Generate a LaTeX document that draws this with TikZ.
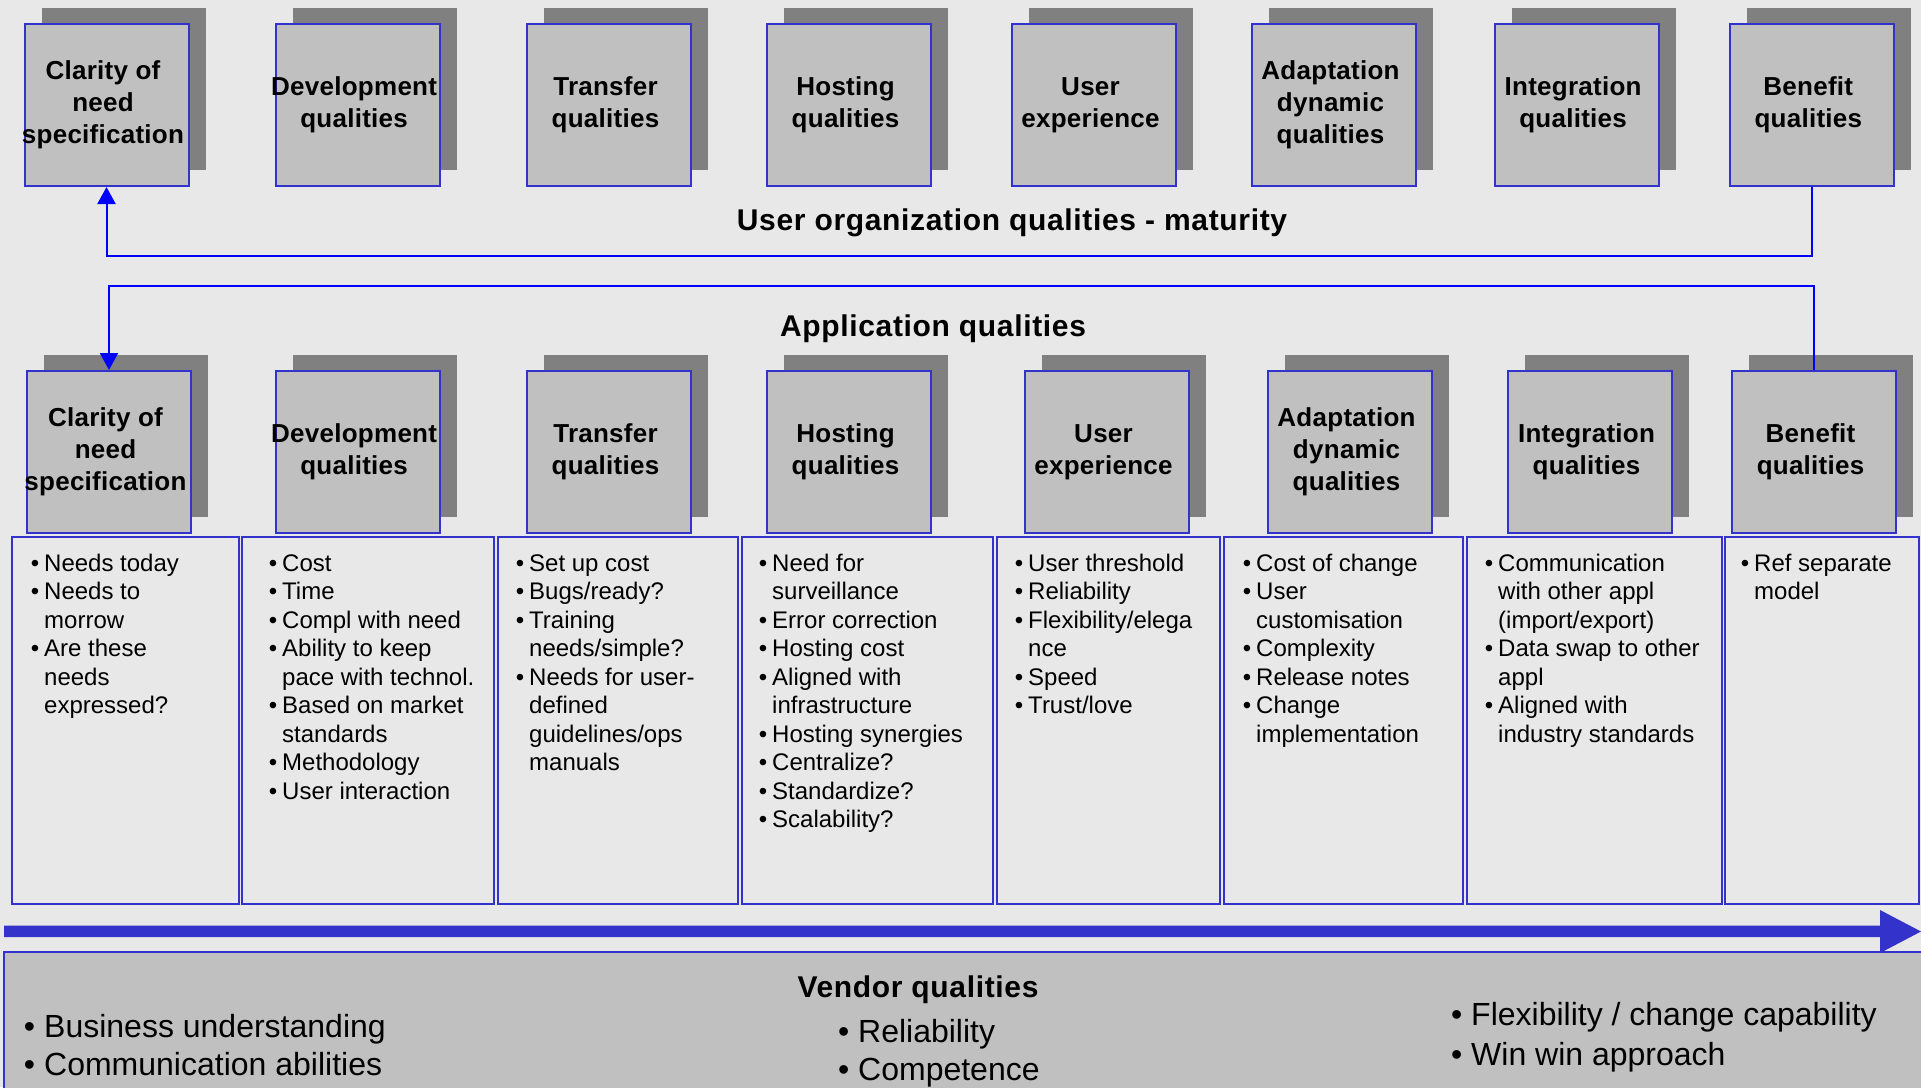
\documentclass[tikz,border=0pt]{standalone}
\usepackage{fontspec}
\setmainfont{Liberation Sans}
\usetikzlibrary{shadows,arrows.meta}
\definecolor{bgc}{HTML}{E8E8E8}
\definecolor{boxc}{HTML}{C0C0C0}
\definecolor{shc}{HTML}{808080}
\definecolor{bdc}{HTML}{3333CC}
\definecolor{lnc}{HTML}{0000FF}
\newcommand{\bl}{\makebox[0pt][r]{•\hspace{5pt}}}
\newcommand{\vbl}{\makebox[0pt][r]{•\hspace{9pt}}}
\newcommand{\qt}[1]{\makebox[0pt]{\begin{tabular}{@{}c@{\hspace{7pt}}}#1\end{tabular}}}
\begin{document}
\begin{tikzpicture}[x=1pt,y=-1pt,
  qbox/.style={draw=bdc, line width=2pt, fill=boxc, minimum width=164pt, minimum height=162pt,
    inner sep=0pt, font=\bfseries\fontsize{26}{32}\selectfont\addfontfeature{LetterSpace=1},
    general shadow={fill=shc, shadow xshift=17pt, shadow yshift=16pt}},
  colbox/.style={draw=bdc, line width=2pt, fill=bgc, anchor=north west, minimum height=367pt, inner sep=0pt},
  coltext/.style={anchor=base west, inner sep=0pt, font=\fontsize{24}{28.5}\selectfont},
  vtext/.style={anchor=base west, inner sep=0pt, font=\fontsize{32}{38}\selectfont},
  lbl/.style={anchor=base, inner sep=0pt, font=\bfseries\fontsize{30}{36}\selectfont\addfontfeature{LetterSpace=2.2}},
  conn/.style={draw=lnc, line width=2pt}]
\useasboundingbox (0,0) rectangle (1921,1087);
\clip (0,0) rectangle (1921,1087);
\fill[bgc] (0,0) rectangle (1921,1087);
% vendor box
\draw[bdc, line width=2pt, fill=boxc] (4,952) rectangle (1935,1100);
% big arrow
\fill[bdc] (4,925.5) -- (1880,925.5) -- (1880,910) -- (1921,931.5) -- (1880,953) -- (1880,937) -- (4,937) -- cycle;
% columns
\node[colbox, minimum width=227pt] (c1) at (11,536) {};
\node[colbox, minimum width=252pt] (c2) at (241,536) {};
\node[colbox, minimum width=240pt] (c3) at (497,536) {};
\node[colbox, minimum width=251pt] (c4) at (741,536) {};
\node[colbox, minimum width=223pt] (c5) at (996,536) {};
\node[colbox, minimum width=239pt] (c6) at (1223,536) {};
\node[colbox, minimum width=255pt] (c7) at (1466,536) {};
\node[colbox, minimum width=194pt] (c8) at (1724,536) {};
% top boxes
\node[qbox] (t1) at (106.5,105) {\qt{Clarity of\\need\\specification}};
\node[qbox] (t2) at (357.6,105) {\qt{Development\\qualities}};
\node[qbox] (t3) at (609,105) {\qt{Transfer\\qualities}};
\node[qbox] (t4) at (849,105) {\qt{Hosting\\qualities}};
\node[qbox] (t5) at (1094,105) {\qt{User\\experience}};
\node[qbox] (t6) at (1334,105) {\qt{Adaptation\\dynamic\\qualities}};
\node[qbox] (t7) at (1576.6,105) {\qt{Integration\\qualities}};
\node[qbox] (t8) at (1811.8,105) {\qt{Benefit\\qualities}};
% lower boxes
\node[qbox] (l1) at (109,452) {\qt{Clarity of\\need\\specification}};
\node[qbox] (l2) at (357.6,452) {\qt{Development\\qualities}};
\node[qbox] (l3) at (609,452) {\qt{Transfer\\qualities}};
\node[qbox] (l4) at (849,452) {\qt{Hosting\\qualities}};
\node[qbox] (l5) at (1107,452) {\qt{User\\experience}};
\node[qbox] (l6) at (1350,452) {\qt{Adaptation\\dynamic\\qualities}};
\node[qbox] (l7) at (1590,452) {\qt{Integration\\qualities}};
\node[qbox] (l8) at (1814,452) {\qt{Benefit\\qualities}};
% connectors
\coordinate (ly1) at (0,256);
\coordinate (ly2) at (0,286);
\draw[conn, -{Triangle[length=17pt,width=18pt]}] (t8.south) -- (t8.south |- ly1) -| (t1.south);
\draw[conn, -{Triangle[length=17pt,width=18pt]}] (l8.north) -- (l8.north |- ly2) -| (l1.north);
% labels
\node[lbl] (uoq) at (1012,230) {User organization qualities - maturity};
\node[lbl] (appq) at (933,336) {Application qualities};
\node[lbl] (vq) at (918,997) {Vendor qualities};
% column texts
\node[coltext] (x1) at (44,571) {\begin{tabular}[t]{@{}l@{}}\bl Needs today\\ \bl Needs to\\ morrow\\ \bl Are these\\ needs\\ expressed?\end{tabular}};
\node[coltext] (x2) at (282,571) {\begin{tabular}[t]{@{}l@{}}\bl Cost\\ \bl Time\\ \bl Compl with need\\ \bl Ability to keep\\ pace with technol.\\ \bl Based on market\\ standards\\ \bl Methodology\\ \bl User interaction\end{tabular}};
\node[coltext] (x3) at (529,571) {\begin{tabular}[t]{@{}l@{}}\bl Set up cost\\ \bl Bugs/ready?\\ \bl Training\\ needs/simple?\\ \bl Needs for user-\\ defined\\ guidelines/ops\\ manuals\end{tabular}};
\node[coltext] (x4) at (772,571) {\begin{tabular}[t]{@{}l@{}}\bl Need for\\ surveillance\\ \bl Error correction\\ \bl Hosting cost\\ \bl Aligned with\\ infrastructure\\ \bl Hosting synergies\\ \bl Centralize?\\ \bl Standardize?\\ \bl Scalability?\end{tabular}};
\node[coltext] (x5) at (1028,571) {\begin{tabular}[t]{@{}l@{}}\bl User threshold\\ \bl Reliability\\ \bl Flexibility/elega\\ nce\\ \bl Speed\\ \bl Trust/love\end{tabular}};
\node[coltext] (x6) at (1256,571) {\begin{tabular}[t]{@{}l@{}}\bl Cost of change\\ \bl User\\ customisation\\ \bl Complexity\\ \bl Release notes\\ \bl Change\\ implementation\end{tabular}};
\node[coltext] (x7) at (1498,571) {\begin{tabular}[t]{@{}l@{}}\bl Communication\\ with other appl\\ (import/export)\\ \bl Data swap to other\\ appl\\ \bl Aligned with\\ industry standards\end{tabular}};
\node[coltext] (x8) at (1754,571) {\begin{tabular}[t]{@{}l@{}}\bl Ref separate\\ model\end{tabular}};
% vendor texts
\node[vtext] (v1) at (44,1037) {\begin{tabular}[t]{@{}l@{}}\vbl Business understanding\\ \vbl Communication abilities\end{tabular}};
\node[vtext] (v2) at (858,1042) {\begin{tabular}[t]{@{}l@{}}\vbl Reliability\\ \vbl Competence\end{tabular}};
\node[vtext, font=\fontsize{32}{40}\selectfont] (v3) at (1471,1025) {\begin{tabular}[t]{@{}l@{}}\vbl Flexibility / change capability\\ \vbl Win win approach\end{tabular}};
\end{tikzpicture}
\end{document}
